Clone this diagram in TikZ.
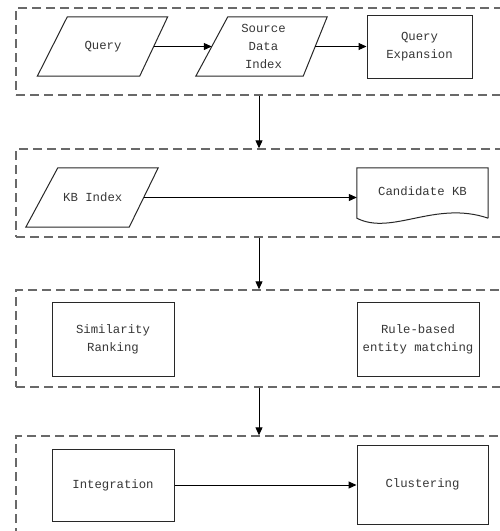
\documentclass[tikz,border=0pt]{standalone}
\usepackage{fontspec}
\setmonofont{Liberation Mono}
\usetikzlibrary{arrows.meta}
\definecolor{dashgray}{RGB}{105,105,105}
\definecolor{edgegray}{RGB}{40,40,40}
\definecolor{txtgray}{RGB}{55,55,55}
\tikzset{
  group/.style={draw=dashgray, line width=1.4pt, dash pattern=on 9pt off 5pt, inner sep=0pt},
  ghost/.style={draw=none, inner sep=0pt, align=center, text=txtgray,
    font=\ttfamily\fontsize{12.3}{18}\selectfont},
  procbox/.style={ghost, draw=edgegray, line width=1pt},
  outline/.style={draw=edgegray, line width=1pt},
  flow/.style={draw=black, line width=1pt, -{Triangle[length=8pt,width=7pt]}},
}
\begin{document}
\begin{tikzpicture}[x=1pt,y=-1pt]
\useasboundingbox (0,0) rectangle (500,531);
\clip (0,0) rectangle (500,531);
\fill[white] (0,0) rectangle (500,531);

% dashed containers
\node[group, minimum width=494pt, minimum height=87pt] (g1) at (263,51.5) {};
\node[group, minimum width=494pt, minimum height=88pt] (g2) at (263,193) {};
\node[group, minimum width=494pt, minimum height=97pt] (g3) at (263,338.5) {};
\node[group, minimum width=494pt, minimum height=124pt] (g4) at (263,498) {};
\coordinate (axis) at (259,0);

% row 1
\node[ghost, minimum width=101pt, minimum height=59pt] (q) at (103,46.5) {Query};
\draw[outline] ([xshift=-15pt]q.south west) -- ([xshift=15pt]q.north west)
  -- ([xshift=14pt]q.north east) -- ([xshift=-14pt]q.south east) -- cycle;
\node[ghost, minimum width=103pt, minimum height=59pt] (sdi) at (263.5,46.5) {Source\\Data\\Index};
\draw[outline] ([xshift=-16pt]sdi.south west) -- ([xshift=16pt]sdi.north west)
  -- ([xshift=12pt]sdi.north east) -- ([xshift=-12pt]sdi.south east) -- cycle;
\node[procbox, minimum width=105pt, minimum height=63pt] (qe) at (419.5,46.5) {Query\\Expansion};

\draw[flow] (q.east) -- (sdi.west);
\draw[flow] (sdi.east) -- (qe.west);

% row 2
\node[ghost, minimum width=101.5pt, minimum height=59pt] (kb) at (92.75,197.5) {KB Index};
\draw[outline] ([xshift=-16pt]kb.south west) -- ([xshift=16pt]kb.north west)
  -- ([xshift=14.5pt]kb.north east) -- ([xshift=-14.5pt]kb.south east) -- cycle;
\node[ghost, minimum width=131pt, minimum height=50pt] (cand) at (422.5,193) {\raisebox{4pt}{Candidate KB}};
\draw[outline] (cand.south east) -- (cand.north east) -- (cand.north west) -- (cand.south west)
  .. controls (392,236) and (435,200) .. (cand.south east);

\draw[flow] (kb.east) -- (kb.east -| cand.west);

% row 3
\node[procbox, minimum width=122pt, minimum height=74pt] (sim) at (113,339) {Similarity\\Ranking};
\node[procbox, minimum width=122pt, minimum height=74pt] (rule) at (418,339) {Rule-based\\entity matching};

% row 4
\node[procbox, minimum width=122pt, minimum height=72pt] (integ) at (113,485) {Integration};
\node[procbox, minimum width=131pt, minimum height=79pt] (clus) at (422.5,484.5) {Clustering};
\draw[flow] (integ.east) -- (integ.east -| clus.west);

% between groups
\draw[flow] (g1.south -| axis) -- (g2.north -| axis);
\draw[flow] (g2.south -| axis) -- (g3.north -| axis);
\draw[flow] (g3.south -| axis) -- (g4.north -| axis);
\end{tikzpicture}
\end{document}
